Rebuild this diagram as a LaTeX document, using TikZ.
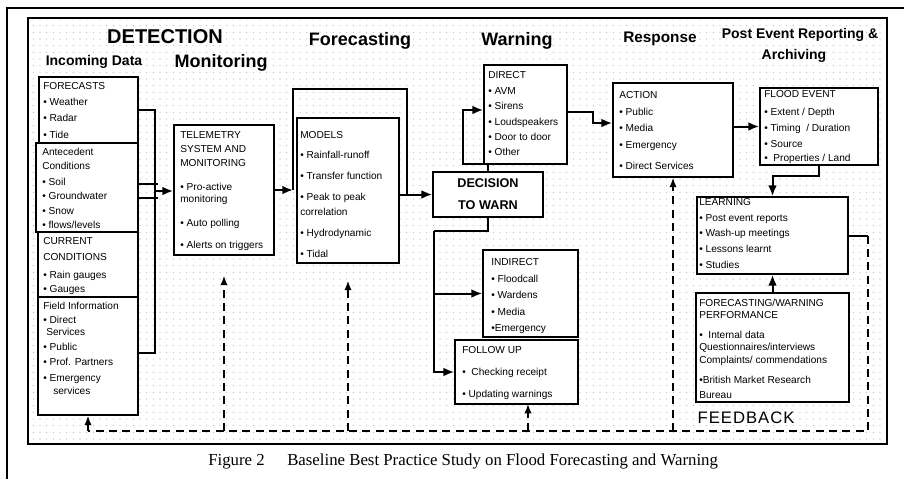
\documentclass[tikz,border=0pt]{standalone}
\usepackage{fontspec}
\setmainfont{Liberation Sans}
\newfontfamily\capfont{Liberation Serif}
\usetikzlibrary{arrows.meta,fit,patterns,calc}
\pgfdeclarepatternformonly{sparsedots}{\pgfqpoint{-1pt}{-1pt}}{\pgfqpoint{5pt}{5pt}}{\pgfqpoint{5pt}{5pt}}{\pgfpathcircle{\pgfqpoint{0pt}{0pt}}{0.4pt}\pgfusepath{fill}}
\tikzset{
  box/.style={draw, line width=1.3pt, fill=white, inner sep=0pt},
  txt/.style={inner sep=0pt, anchor=west, font=\fontsize{7.6}{9}\selectfont, text height=5.4pt, text depth=0pt},
  hd/.style={inner sep=0pt, font=\bfseries\fontsize{#1}{#1}\selectfont},
  conn/.style={line width=1.5pt},
  arr/.style={conn, -{Latex[length=8pt,width=6.5pt]}},
  fbline/.style={line width=1.1pt, dash pattern=on 6pt off 4pt},
  fbarr/.style={fbline, -{Latex[length=7pt,width=5.5pt]}},
}
\newcommand{\boxlines}[3]{\foreach \yy/\tx [count=\i] in {#3}{\node[txt] (#1-\i) at (#2,\yy) {\tx};}}
\begin{document}
\begin{tikzpicture}[x=0.75pt,y=-0.75pt]
\useasboundingbox (0,0) rectangle (904,479);
% page border
\draw[line width=1.8pt] (7,479) -- (7,8) -- (904,8);
% dotted panel
\fill[pattern=sparsedots, pattern color=gray!70] (28,18) rectangle (887,444);
\draw[line width=0.8pt] (28,18) rectangle (887,444);

% headings
\node[hd=15] (hdet) at (165,37) {DETECTION};
\node[hd=10.5] (hinc) at (94,62) {Incoming Data};
\node[hd=13.5] (hmon) at (221,63) {Monitoring};
\node[hd=13.5] (hfor) at (360,41) {Forecasting};
\node[hd=13.5] (hwar) at (517,41) {Warning};
\node[hd=11.5] (hres) at (660,39) {Response};
\node[hd=10.5] (hpost) at (800,35) {Post Event Reporting \&};
\node[hd=10.5] (harch) at (794,56) {Archiving};

% left bracket
\coordinate (lbT) at (155,110);
\coordinate (lbB) at (155,353);
\draw[conn] (138,110) -- (lbT) -- (lbB) -- (138,353);
% forecasting bracket
\coordinate (fcL) at (293,190);
\coordinate (fcTL) at (293,89);
\coordinate (fcTR) at (407,89);
\coordinate (fcR) at (407,194.5);
\draw[conn] (fcL) -- (fcTL) -- (fcTR) -- (fcR);

% boxes
\node[box, fit={(39,77) (138,143)}] (forecasts) {};
\node[box, fit={(36,143) (138,232)}] (antecedent) {};
\node[box, fit={(38,232) (138,297)}] (current) {};
\node[box, fit={(38,297) (138,415)}] (field) {};
\node[box, fit={(174,125) (274,255)}] (telemetry) {};
\node[box, fit={(297,118) (399,263)}] (models) {};
\node[box, fit={(484,65) (567,164)}] (direct) {};
\node[box, fit={(433,172) (543,217)}] (decision) {};
\node[box, fit={(483,250) (578,337)}] (indirect) {};
\node[box, fit={(455,340) (578,404)}] (followup) {};
\node[box, fit={(613,83) (733,177)}] (action) {};
\node[box, fit={(760,88) (878,165)}] (flood) {};
\node[box, fit={(697,197) (848,274)}] (learning) {};
\node[box, fit={(696,293) (849,402)}] (perf) {};

% box texts
\boxlines{tfc}{43}{86/FORECASTS, 102/{• Weather}, 118/{• Radar}, 135/{• Tide}}
\boxlines{tant}{42}{152/Antecedent, 166/Conditions, 182/{• Soil}, 196/{• Groundwater}, 211/{• Snow}, 225/{• flows/levels}}
\boxlines{tcur}{43}{241/CURRENT, 257/CONDITIONS, 275/{• Rain gauges}, 289/{• Gauges}}
\boxlines{tfld}{43}{306/{Field Information}, 320/{• Direct}, 347/{• Public}, 362/{• Prof. Partners}, 378/{• Emergency}}
\node[txt] (tfld-s1) at (46,332) {Services};
\node[txt] (tfld-s2) at (53,391) {services};
\boxlines{ttel}{180}{135/TELEMETRY, 149/{SYSTEM AND}, 163/MONITORING, 187/{• Pro-active}, 199/monitoring, 223/{• Auto polling}, 245/{• Alerts on triggers}}
\boxlines{tmod}{300}{135/MODELS, 155/{• Rainfall-runoff}, 176/{• Transfer function}, 197/{• Peak to peak}, 212/correlation, 233/{• Hydrodynamic}, 254/{• Tidal}}
\boxlines{tdir}{488}{75/DIRECT, 91/{• AVM}, 106/{• Sirens}, 122/{• Loudspeakers}, 137/{• Door to door}, 152/{• Other}}
\node[hd=9.5] (tdec-1) at (488,183) {DECISION};
\node[hd=9.5] (tdec-2) at (488,205) {TO WARN};
\boxlines{tind}{491}{262/INDIRECT, 279/{• Floodcall}, 295/{• Wardens}, 312/{• Media}, 328/{•Emergency}}
\boxlines{tfol}{462}{350/{FOLLOW UP}, 372/{•\ \ Checking receipt}, 394/{• Updating warnings}}
\boxlines{tact}{619}{95/ACTION, 112/{• Public}, 128/{• Media}, 145/{• Emergency}, 166/{• Direct Services}}
\boxlines{tflo}{764}{94/{FLOOD EVENT}, 112/{• Extent / Depth}, 128/{• Timing\ \ / Duration}, 144/{• Source}, 158/{•\ \ Properties / Land}}
\boxlines{tlea}{699}{202/LEARNING, 218/{• Post event reports}, 233/{• Wash-up meetings}, 249/{• Lessons learnt}, 265/{• Studies}}
\boxlines{tper}{699}{303/{FORECASTING/WARNING}, 315/PERFORMANCE, 335/{•\ \ Internal data}, 347/{Questionnaires/interviews}, 360/{Complaints/ commendations}, 380/{•British Market Research}, 395/Bureau}

% fork into telemetry
\coordinate (fk1) at (158,184);
\coordinate (fk2) at (158,198);
\coordinate (fk) at (155,191);
\draw[conn] (antecedent.east |- fk1) -- (fk1);
\draw[conn] (antecedent.east |- fk2) -- (fk2);
\draw[arr] (fk) -- (telemetry.west |- fk);
% telemetry to forecasting
\draw[arr] (telemetry.east) -- (fcL);
% models to decision
\draw[arr] (models.east |- decision.west) -- (decision.west);
% decision to direct
\coordinate (dl1) at (463,164);
\coordinate (dl2) at (463,110);
\draw[arr] (decision.north) |- (dl1) -- (dl2) -- (dl2 -| direct.west);
% decision down to indirect and follow up
\coordinate (dd1) at (434,231);
\draw[conn] (decision.south) |- (dd1);
\draw[arr] (dd1) |- (followup.west);
\draw[arr] (dd1 |- indirect.west) -- (indirect.west);
% direct to action
\coordinate (da1) at (593,112);
\coordinate (da2) at (593,123);
\draw[arr] (direct.east |- da1) -- (da1) -- (da2) -- (action.west |- da2);
% action to flood
\draw[arr] (action.east |- flood.west) -- (flood.west);
% flood to learning
\draw[arr] (flood.south) -- ++(0,10) -| (learning.north);
% performance to learning
\draw[arr] (perf.north) -- (learning.south);
% feedback loop
\coordinate (lr) at (868,235.5);
\coordinate (fbR) at (868,431);
\coordinate (fbLft) at (88,431);
\coordinate (fbT) at ($(telemetry.south)+(0,20)$);
\coordinate (fbM) at ($(models.south)+(0,17)$);
\coordinate (fbF) at (528,404);
\draw[conn] (learning.east) -- (lr);
\draw[fbline] (lr) -- (fbR) -- (fbLft);
\draw[fbarr] (fbLft) -- (field.south);
\draw[fbarr] (telemetry.south |- fbR) -- (fbT);
\draw[fbarr] (models.south |- fbR) -- (fbM);
\draw[fbarr] (fbF |- fbR) -- (fbF);
\draw[fbarr] (action.south |- fbR) -- (action.south);
\node[inner sep=0pt, font=\fontsize{12.5}{14}\selectfont\addfontfeature{LetterSpace=6}] (feedback) at (746,418) {FEEDBACK};

% caption
\node[anchor=base west, inner sep=0pt, font=\capfont\fontsize{12.6}{14}\selectfont] (figlabel) at (208,465) {Figure 2};
\node[anchor=base west, inner sep=0pt, font=\capfont\fontsize{12.6}{14}\selectfont] (figtitle) at (287,465) {Baseline Best Practice Study on Flood Forecasting and Warning};
\end{tikzpicture}
\end{document}
